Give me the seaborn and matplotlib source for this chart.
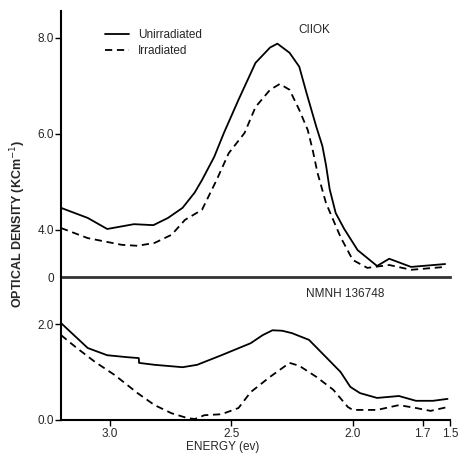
import numpy as np
import pandas as pd
import seaborn as sns
import matplotlib.pyplot as plt

# CIIOK (top panel)
top_unirr_e = [3.20, 3.09, 3.01, 2.90, 2.82, 2.76, 2.70, 2.65, 2.62, 2.57, 2.53, 2.47, 2.40, 2.34, 2.31,
               2.26, 2.22, 2.19, 2.15, 2.125, 2.11, 2.095, 2.07, 2.035, 1.98, 1.90, 1.85, 1.76, 1.62]
top_unirr_od = [4.46, 4.25, 4.02, 4.12, 4.10, 4.25, 4.46, 4.78, 5.04, 5.52, 6.02, 6.71, 7.48, 7.80, 7.88,
                7.69, 7.40, 6.85, 6.15, 5.75, 5.35, 4.85, 4.35, 4.02, 3.58, 3.25, 3.40, 3.23, 3.29]
top_irr_e = [3.20, 3.09, 2.95, 2.885, 2.815, 2.745, 2.69, 2.65, 2.62, 2.56, 2.51, 2.445, 2.40, 2.34, 2.30,
             2.26, 2.22, 2.185, 2.165, 2.145, 2.11, 2.05, 2.00, 1.94, 1.85, 1.76, 1.62]
top_irr_od = [4.04, 3.83, 3.69, 3.67, 3.73, 3.90, 4.21, 4.33, 4.42, 5.04, 5.60, 6.02, 6.56, 6.92, 7.04,
              6.92, 6.50, 6.08, 5.67, 5.19, 4.56, 3.85, 3.375, 3.21, 3.27, 3.17, 3.23]

# NMNH 136748 (bottom panel)
bot_unirr_e = [3.20, 3.09, 3.01, 2.93, 2.88, 2.879, 2.815, 2.70, 2.64, 2.54, 2.42, 2.37, 2.33, 2.29, 2.25,
               2.18, 2.11, 2.05, 2.01, 1.97, 1.90, 1.81, 1.74, 1.67, 1.61]
bot_unirr_od = [2.02, 1.50, 1.35, 1.31, 1.29, 1.19, 1.15, 1.10, 1.15, 1.35, 1.60, 1.77, 1.87, 1.86, 1.81,
                1.67, 1.31, 1.00, 0.69, 0.56, 0.46, 0.50, 0.40, 0.40, 0.44]
bot_irr_e = [3.20, 3.14, 3.06, 2.98, 2.885, 2.815, 2.745, 2.68, 2.65, 2.61, 2.54, 2.47, 2.42, 2.34,
             2.26, 2.22, 2.15, 2.08, 2.02, 2.00, 1.90, 1.81, 1.74, 1.68, 1.61]
bot_irr_od = [1.77, 1.52, 1.21, 0.94, 0.56, 0.31, 0.14, 0.04, 0.02, 0.10, 0.12, 0.25, 0.58, 0.90,
              1.19, 1.13, 0.90, 0.63, 0.27, 0.21, 0.21, 0.31, 0.25, 0.19, 0.27]

x_ticks = [3.0, 2.5, 2.0, 1.712, 1.60]
x_tick_labels = ['3.0', '2.5', '2.0', '1.7', '1.5']

sns.set_style('white')
plt.rcParams['font.family'] = ['Liberation Sans', 'DejaVu Sans']

fig = plt.figure(figsize=(4.6, 4.55), dpi=100)
ax_top = fig.add_axes([61 / 460, 1 - 277 / 455, 389 / 460, 266 / 455])
ax_bot = fig.add_axes([61 / 460, 1 - 420 / 455, 389 / 460, 143 / 455])

dash = (0, (4, 2.6))
sns.lineplot(x=top_unirr_e, y=top_unirr_od, ax=ax_top, color='black', lw=1.3, label='Unirradiated', sort=False)
sns.lineplot(x=top_irr_e, y=top_irr_od, ax=ax_top, color='black', lw=1.3, linestyle=dash, label='Irradiated', sort=False)
sns.lineplot(x=bot_unirr_e, y=bot_unirr_od, ax=ax_bot, color='black', lw=1.3, sort=False)
sns.lineplot(x=bot_irr_e, y=bot_irr_od, ax=ax_bot, color='black', lw=1.3, linestyle=dash, sort=False)

for ax in (ax_top, ax_bot):
    ax.set_xlim(3.20, 1.60)
    ax.set_facecolor('none')
    ax.spines['right'].set_visible(False)
    ax.spines['top'].set_visible(False)
    ax.spines['left'].set_color('black')
    ax.spines['left'].set_linewidth(1.5)
    ax.tick_params(axis='y', left=True, length=4, width=1, labelsize=8.5, pad=1, color='black')
    ax.set_xlabel('')
    ax.set_ylabel('')

# top panel
ax_top.set_ylim(3.02, 8.56)
ax_top.set_yticks([3.02, 4.0, 6.0, 8.0])
ax_top.set_yticklabels(['0', '4.0', '6.0', '8.0'])
ax_top.yaxis.get_major_ticks()[0].tick1line.set_visible(False)
ax_top.set_xticks([])
ax_top.spines['bottom'].set_color('#333333')
ax_top.spines['bottom'].set_linewidth(2)
ax_top.text(0.65, 0.93, 'CIIOK', transform=ax_top.transAxes, ha='center', va='center', fontsize=8.5)
ax_top.legend(loc='upper left', bbox_to_anchor=(105 / 460, 1 - 29 / 455), bbox_transform=fig.transFigure,
              frameon=False, fontsize=8.5, handlelength=2.0, handletextpad=0.8, labelspacing=0.35,
              borderpad=0, borderaxespad=0)

# bottom panel
ax_bot.set_ylim(0, 2.98)
ax_bot.set_yticks([0.0, 2.0])
ax_bot.set_yticklabels(['0.0', '2.0'])
ax_bot.spines['bottom'].set_color('black')
ax_bot.spines['bottom'].set_linewidth(1.5)
ax_bot.set_xticks(x_ticks)
ax_bot.set_xticklabels(x_tick_labels)
ax_bot.tick_params(axis='x', bottom=True, length=4, width=1, labelsize=8.5, pad=2, color='black')
ax_bot.text(0.73, 0.88, 'NMNH 136748', transform=ax_bot.transAxes, ha='center', va='center', fontsize=8.5)

fig.text(223 / 460, 1 - 447 / 455, 'ENERGY (ev)', ha='center', va='center', fontsize=8.5)
fig.text(18 / 460, 1 - 224 / 455, 'OPTICAL DENSITY (KCm$^{-1}$)', rotation=90, ha='center', va='center',
         fontsize=9, fontweight='bold')

fig.savefig('out.png', dpi=100)
